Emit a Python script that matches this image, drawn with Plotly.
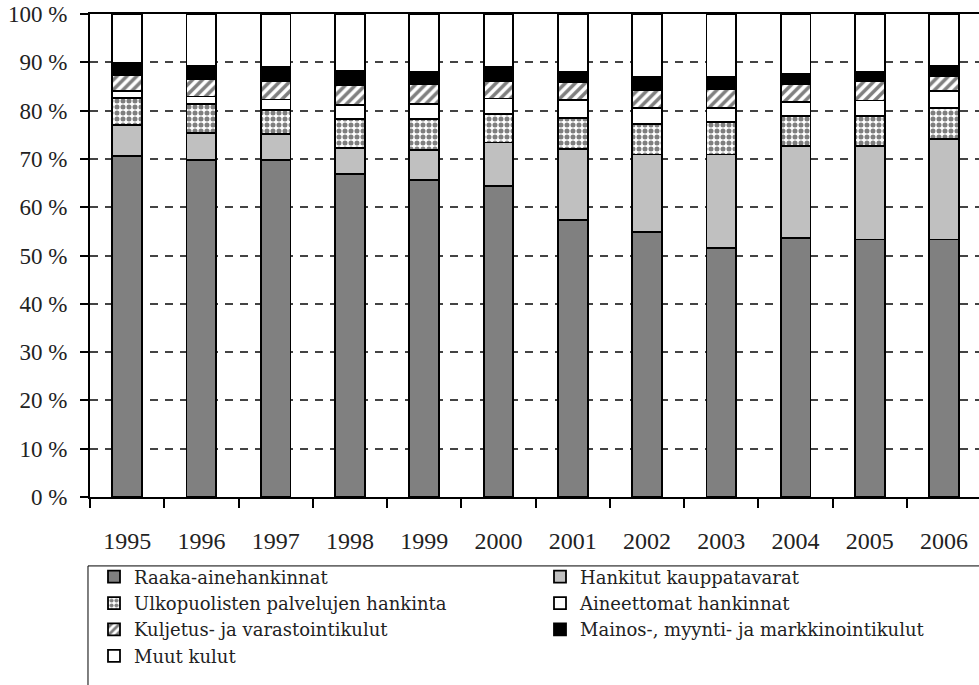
import plotly.graph_objects as go

years = ["1995", "1996", "1997", "1998", "1999", "2000", "2001", "2002", "2003", "2004", "2005", "2006"]

raaka = [70.6, 69.8, 69.8, 66.8, 65.6, 64.4, 57.4, 54.9, 51.6, 53.7, 53.3, 53.3]
hankitut = [6.5, 5.6, 5.3, 5.4, 6.2, 9.0, 14.7, 16.0, 19.3, 18.9, 19.3, 20.9]
ulkopuoliset = [5.5, 6.0, 5.1, 6.0, 6.4, 5.9, 6.4, 6.4, 6.8, 6.3, 6.3, 6.4]
aineettomat = [1.4, 1.5, 2.1, 2.9, 3.2, 3.2, 3.7, 3.2, 2.8, 2.9, 3.2, 3.4]
kuljetus = [3.3, 3.6, 3.8, 4.2, 4.0, 3.6, 3.7, 3.7, 4.0, 3.6, 4.0, 3.2]
mainos = [2.6, 2.8, 2.9, 2.9, 2.7, 2.9, 2.2, 2.7, 2.4, 2.3, 2.0, 2.1]
muut = [10.1, 10.7, 11.0, 11.8, 11.9, 11.0, 11.9, 13.1, 13.1, 12.3, 11.9, 10.7]

FONT = "Liberation Serif"
LEGEND_FONT = "DejaVu Serif"

series = [
    ("Raaka-ainehankinnat", raaka, dict(color="#808080")),
    ("Hankitut kauppatavarat", hankitut, dict(color="#C0C0C0")),
    ("Ulkopuolisten palvelujen hankinta", ulkopuoliset,
     dict(color="white", pattern=dict(shape=".", fgcolor="black", bgcolor="white", size=6, solidity=0.55))),
    ("Aineettomat hankinnat", aineettomat, dict(color="white")),
    ("Kuljetus- ja varastointikulut", kuljetus,
     dict(color="white", pattern=dict(shape="/", fgcolor="black", bgcolor="white", size=7, solidity=0.5))),
    ("Mainos-, myynti- ja markkinointikulut", mainos, dict(color="black")),
    ("Muut kulut", muut, dict(color="white")),
]

fig = go.Figure()
for name, vals, mk in series:
    marker = dict(mk)
    marker["line"] = dict(color="black", width=1.8)
    fig.add_trace(go.Bar(x=years, y=vals, name=name, marker=marker, width=0.4))

fig.update_layout(
    width=979, height=685,
    barmode="stack",
    paper_bgcolor="white", plot_bgcolor="white",
    margin=dict(l=90, r=0, t=13.5, b=188, autoexpand=False),
    font=dict(family=FONT, size=22, color="#222"),
    legend=dict(
        orientation="h", x=0.0045, xanchor="left", y=-0.1272, yanchor="top",
        borderwidth=0, bgcolor="rgba(0,0,0,0)",
        font=dict(family=LEGEND_FONT, size=18, color="#222"),
        entrywidth=401, entrywidthmode="pixels", traceorder="normal",
        itemwidth=30,
    ),
    shapes=[dict(type="rect", xref="paper", yref="paper",
                 x0=-0.00225, x1=1.03, y0=-0.1427, y1=-0.45,
                 line=dict(color="black", width=1), fillcolor="rgba(0,0,0,0)")],
)
fig.update_xaxes(
    type="category", range=[-0.5, 11.47], automargin=False,
    showline=True, linecolor="black", linewidth=2, mirror=True,
    ticks="outside", tickson="boundaries", ticklen=9, tickwidth=1.5, tickcolor="black",
    ticklabelstandoff=21, showgrid=False, ticklabeloverflow="allow",
    tickfont=dict(family=FONT, size=24, color="#222"),
)
fig.update_yaxes(
    range=[0, 100], dtick=10, ticksuffix=" %", automargin=False,
    showline=True, linecolor="black", linewidth=2,
    ticks="outside", ticklen=8, tickwidth=1.5, tickcolor="black",
    ticklabelstandoff=8, ticklabeloverflow="allow",
    showgrid=True, gridcolor="#444", gridwidth=1.5, griddash="8px,7px",
    zeroline=False,
    tickfont=dict(family=FONT, size=23, color="#222"),
)

fig.write_html("out.html", config={"displayModeBar": False},
               post_script="document.body.style.margin='0';")
